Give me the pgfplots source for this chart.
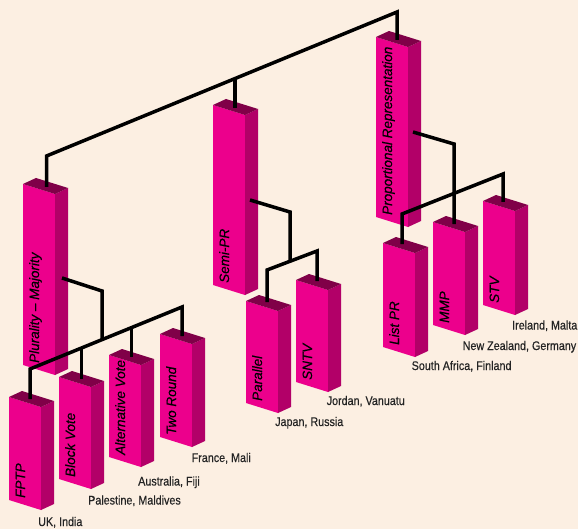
\documentclass[border=0pt]{standalone}
\usepackage{pgfplots}
\pgfplotsset{compat=1.18}
\usepackage{fontspec}
\setmainfont{Liberation Sans}
\newfontfamily\condfont[FakeStretch=0.86,FakeBold=0.4]{Liberation Sans}
\newfontfamily\labfont[FakeBold=0.3]{Liberation Sans}
\definecolor{bg}{RGB}{252,239,226}
\definecolor{mfront}{RGB}{236,0,140}
\definecolor{mside}{RGB}{178,0,104}
\definecolor{mtop}{RGB}{128,0,72}
\definecolor{txt}{RGB}{35,35,35}
\newcommand\lab{\labfont\fontsize{13.5bp}{14bp}\selectfont\itshape}
\newcommand\citylab{\condfont\fontsize{12.5bp}{13bp}\selectfont}
% box: front-top-left x, y, height, label
\newcommand\mybox[4]{%
 \pgfmathsetmacro\xa{#1}\pgfmathsetmacro\xb{#1+32}\pgfmathsetmacro\xc{#1+45}\pgfmathsetmacro\xd{#1+13}%
 \pgfmathsetmacro\ya{#2}\pgfmathsetmacro\yb{#2+10}\pgfmathsetmacro\yc{#2+4}\pgfmathsetmacro\yd{#2-6}%
 \pgfmathsetmacro\yab{#2+#3}\pgfmathsetmacro\ybb{#2+10+#3}\pgfmathsetmacro\ycb{#2+4+#3}%
 \pgfmathsetmacro\xl{#1+16}\pgfmathsetmacro\yl{#2+#3-2}%
 \edef\tmp{%
 \noexpand\addplot[fill=mfront,draw=none] coordinates {(\xa,\ya)(\xb,\yb)(\xb,\ybb)(\xa,\yab)} -- cycle;
 \noexpand\addplot[fill=mside,draw=none] coordinates {(\xb,\yb)(\xc,\yc)(\xc,\ycb)(\xb,\ybb)} -- cycle;
 \noexpand\addplot[fill=mtop,draw=none] coordinates {(\xa,\ya)(\xd,\yd)(\xc,\yc)(\xb,\yb)} -- cycle;
 \noexpand\node[rotate=90,anchor=base west,inner sep=0pt,font=\noexpand\lab] at (axis cs:\xl,\yl) {#4};
 }\tmp}
\begin{document}
\begin{tikzpicture}
\begin{axis}[x=1bp,y=1bp,y dir=reverse,xmin=0,xmax=578,ymin=0,ymax=529,
  hide axis,scale only axis,no markers,clip=false]
\addplot[fill=bg,draw=none] coordinates {(0,0)(578,0)(578,529)(0,529)} -- cycle;
% boxes
\mybox{23}{184}{181}{Plurality – Majority}
\mybox{9}{397}{103}{FPTP}
\mybox{59}{377}{102}{Block Vote}
\mybox{109}{355}{102}{Alternative Vote}
\mybox{160}{334}{103}{Two Round}
\mybox{213}{105}{180}{Semi-PR}
\mybox{246}{301}{102}{Parallel}
\mybox{296}{280}{102}{SNTV}
\mybox{376}{37}{180}{Proportional Representation}
\mybox{383}{243}{104}{List PR}
\mybox{433}{222}{103}{MMP}
\mybox{483}{201}{104}{STV}
% connector lines
\addplot[black,line width=3.5bp,line join=miter] coordinates {(46.5,187)(46.5,156)(397,12)(397,40)};
\addplot[black,line width=3.5bp] coordinates {(235,79)(235,108)};
\addplot[black,line width=3.5bp,line join=miter] coordinates {(62,278)(102,291)(102,339)};
\addplot[black,line width=3.5bp,line join=miter] coordinates {(30,399)(30,369)(182,307)(182,336)};
\addplot[black,line width=3.5bp] coordinates {(81.5,348)(81.5,379)};
\addplot[black,line width=3.5bp] coordinates {(131.5,328)(131.5,357)};
\addplot[black,line width=3.5bp,line join=miter] coordinates {(250,200)(290,212)(290,262)};
\addplot[black,line width=3.5bp,line join=miter] coordinates {(267,302)(267,270)(317,251)(317,281)};
\addplot[black,line width=3.5bp,line join=miter] coordinates {(413,132)(454,144)(454,224)};
\addplot[black,line width=3.5bp,line join=miter] coordinates {(402,244)(402,214)(503,174)(503,202)};
% country labels
\node[anchor=base west,inner sep=0pt,font=\citylab,text=txt] at (axis cs:38,526) {UK, India};
\node[anchor=base west,inner sep=0pt,font=\citylab,text=txt] at (axis cs:88,504.5) {Palestine, Maldives};
\node[anchor=base west,inner sep=0pt,font=\citylab,text=txt] at (axis cs:138,485.5) {Australia, Fiji};
\node[anchor=base west,inner sep=0pt,font=\citylab,text=txt] at (axis cs:191.5,462) {France, Mali};
\node[anchor=base west,inner sep=0pt,font=\citylab,text=txt] at (axis cs:275,426) {Japan, Russia};
\node[anchor=base west,inner sep=0pt,font=\citylab,text=txt] at (axis cs:326.5,405) {Jordan, Vanuatu};
\node[anchor=base west,inner sep=0pt,font=\citylab,text=txt] at (axis cs:411.5,370) {South Africa, Finland};
\node[anchor=base west,inner sep=0pt,font=\citylab,text=txt] at (axis cs:462.5,350) {New Zealand, Germany};
\node[anchor=base west,inner sep=0pt,font=\citylab,text=txt] at (axis cs:512,329.5) {Ireland, Malta};
\end{axis}
\pgfresetboundingbox
\useasboundingbox (current axis.south west) rectangle (current axis.north east);
\end{tikzpicture}
\end{document}
